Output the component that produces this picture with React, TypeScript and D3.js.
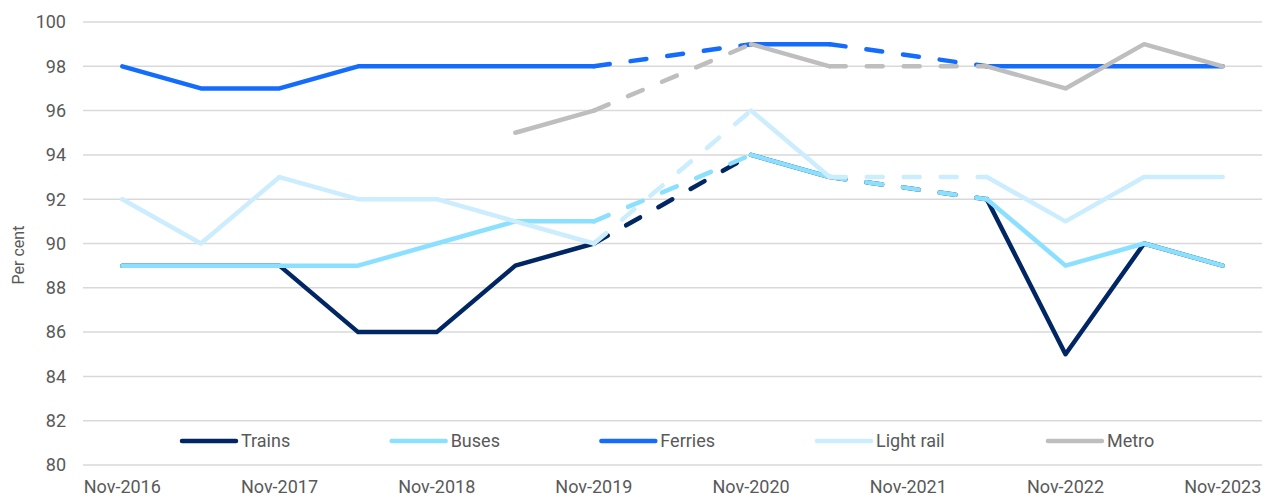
import React from "react";
import * as d3 from "d3";

// Half-yearly survey waves
const categories = [
  "Nov-2016", "May-2017", "Nov-2017", "May-2018", "Nov-2018", "May-2019", "Nov-2019",
  "May-2020", "Nov-2020", "May-2021", "Nov-2021", "May-2022", "Nov-2022", "May-2023", "Nov-2023",
];

// Satisfaction (per cent); null = no survey that wave
const trains = [89, 89, 89, 86, 86, 89, 90, null, 94, 93, null, 92, 85, 90, 89];
const buses = [89, 89, 89, 89, 90, 91, 91, null, 94, 93, null, 92, 89, 90, 89];
const ferries = [98, 97, 97, 98, 98, 98, 98, null, 99, 99, null, 98, 98, 98, 98];
const lightRail = [92, 90, 93, 92, 92, 91, 90, null, 96, 93, null, 93, 91, 93, 93];
const metro = [null, null, null, null, null, 95, 96, null, 99, 98, null, 98, 97, 99, 98];

const yTicks = [80, 82, 84, 86, 88, 90, 92, 94, 96, 98, 100];
const xTickLabels = ["Nov-2016", "Nov-2017", "Nov-2018", "Nov-2019", "Nov-2020", "Nov-2021", "Nov-2022", "Nov-2023"];

const seriesNames = ["Trains", "Buses", "Ferries", "Light rail", "Metro"];
const seriesValues = [trains, buses, ferries, lightRail, metro];
const seriesColors = ["#002664", "#8CE0FF", "#146CFD", "#CBEDFD", "#BEBEBE"];

const W = 1266;
const H = 497;
const margin = { top: 22, right: 4, bottom: 32, left: 83 };
const FONT = "Roboto, 'Noto Sans', sans-serif";
const TEXT = "#595959";

function measure(text: string, font: string): number {
  const c = document.createElement("canvas").getContext("2d");
  if (!c) return text.length * 9;
  c.font = font;
  return c.measureText(text).width;
}

export default function App() {
  const x = d3
    .scaleBand<string>()
    .domain(categories)
    .range([margin.left, W - margin.right]);
  const cx = (c: string) => (x(c) as number) + x.bandwidth() / 2;
  const y = d3.scaleLinear().domain([80, 100]).range([H - margin.bottom, margin.top]);

  type Pt = { c: string; v: number | null };
  const line = d3
    .line<Pt>()
    .defined((d) => d.v != null)
    .x((d) => cx(d.c))
    .y((d) => y(d.v as number));

  // dashed bridges across missing waves
  const bridges = (vals: (number | null)[]) => {
    const segs: [Pt, Pt][] = [];
    let last = -1;
    vals.forEach((v, i) => {
      if (v == null) return;
      if (last >= 0 && i - last > 1) {
        segs.push([
          { c: categories[last], v: vals[last] },
          { c: categories[i], v },
        ]);
      }
      last = i;
    });
    return segs;
  };

  // legend layout
  const legendFont = `18px ${FONT}`;
  const legendY = 441;
  let lx = 182;
  const legendItems = seriesNames.map((name, i) => {
    const item = { name, color: seriesColors[i], x: lx };
    lx = lx + 59 + measure(name, legendFont) * 1.09 + 97;
    return item;
  });

  return (
    <svg
      width={W}
      height={H}
      style={{ position: "absolute", left: 0, top: 0, background: "#fff" }}
      fontFamily={FONT}
    >
      {yTicks.map((t) => (
        <g key={t}>
          <line
            x1={margin.left}
            x2={W - margin.right}
            y1={y(t)}
            y2={y(t)}
            stroke="#D9D9D9"
            strokeWidth={1.5}
          />
          <text
            x={margin.left - 17}
            y={y(t)}
            dy="0.35em"
            textAnchor="end"
            fontSize={18}
            fill={TEXT}
          >
            {t}
          </text>
        </g>
      ))}

      {xTickLabels.map((c) => (
        <text key={c} x={cx(c)} y={H - 4} textAnchor="middle" fontSize={18} fill={TEXT}>
          {c}
        </text>
      ))}

      <text
        transform={`translate(24,255) rotate(-90)`}
        textAnchor="middle"
        fontSize={16}
        fill={TEXT}
      >
        Per cent
      </text>

      {seriesValues.map((vals, i) => {
        const pts: Pt[] = vals.map((v, j) => ({ c: categories[j], v }));
        return (
          <g key={seriesNames[i]}>
            <path
              d={line(pts) || ""}
              fill="none"
              stroke={seriesColors[i]}
              strokeWidth={4.5}
              strokeLinejoin="round"
              strokeLinecap="round"
            />
            {bridges(vals).map((seg, k) => (
              <path
                key={k}
                d={line(seg) || ""}
                fill="none"
                stroke={seriesColors[i]}
                strokeWidth={4.5}
                strokeLinecap="round"
                strokeDasharray="16 21"
              />
            ))}
          </g>
        );
      })}

      {legendItems.map((it) => (
        <g key={it.name}>
          <line
            x1={it.x}
            x2={it.x + 54}
            y1={legendY}
            y2={legendY}
            stroke={it.color}
            strokeWidth={4.5}
            strokeLinecap="round"
          />
          <text x={it.x + 59} y={legendY} dy="0.35em" fontSize={18} fill={TEXT}>
            {it.name}
          </text>
        </g>
      ))}
    </svg>
  );
}
